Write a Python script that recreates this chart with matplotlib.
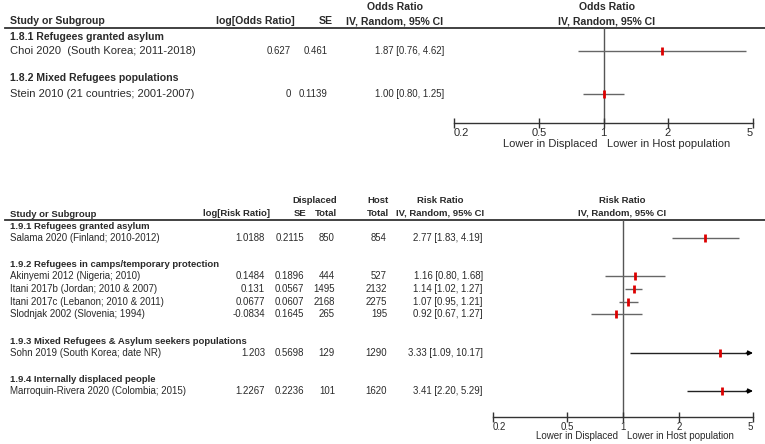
import matplotlib
matplotlib.use("Agg")
import matplotlib.pyplot as plt
from matplotlib import font_manager
import numpy as np

plt.rcParams['font.family'] = ['Liberation Sans', 'DejaVu Sans']
_names = {f.name for f in font_manager.fontManager.ttflist}
HAS_NARROW = 'Liberation Sans Narrow' in _names
NUM_FAMILY = ['Liberation Sans Narrow', 'Liberation Sans'] if HAS_NARROW else ['Liberation Sans']

# ---------------- data ----------------
top_groups = ["1.8.1 Refugees granted asylum", "1.8.2 Mixed Refugees populations"]
top_studies = ["Choi 2020  (South Korea; 2011-2018)", "Stein 2010 (21 countries; 2001-2007)"]
top_logor = ["0.627", "0"]
top_se = ["0.461", "0.1139"]
top_or = [1.87, 1.00]
top_lo = [0.76, 0.80]
top_hi = [4.62, 1.25]

bot_groups = ["1.9.1 Refugees granted asylum",
              "1.9.2 Refugees in camps/temporary protection",
              "1.9.3 Mixed Refugees & Asylum seekers populations",
              "1.9.4 Internally displaced people"]
bot_studies = ["Salama 2020 (Finland; 2010-2012)",
               "Akinyemi 2012 (Nigeria; 2010)",
               "Itani 2017b (Jordan; 2010 & 2007)",
               "Itani 2017c (Lebanon; 2010 & 2011)",
               "Slodnjak 2002 (Slovenia; 1994)",
               "Sohn 2019 (South Korea; date NR)",
               "Marroquin-Rivera 2020 (Colombia; 2015)"]
bot_logrr = ["1.0188", "0.1484", "0.131", "0.0677", "-0.0834", "1.203", "1.2267"]
bot_se = ["0.2115", "0.1896", "0.0567", "0.0607", "0.1645", "0.5698", "0.2236"]
bot_disp = [850, 444, 1495, 2168, 265, 129, 101]
bot_host = [854, 527, 2132, 2275, 195, 1290, 1620]
bot_rr = [2.77, 1.16, 1.14, 1.07, 0.92, 3.33, 3.41]
bot_lo = [1.83, 0.80, 1.02, 0.95, 0.67, 1.09, 2.20]
bot_hi = [4.19, 1.68, 1.27, 1.21, 1.27, 10.17, 5.29]

ticks = [0.2, 0.5, 1, 2, 5]
tick_labels = ["0.2", "0.5", "1", "2", "5"]

# ---------------- layout (pixels) ----------------
W, H = 765, 444
TXT_COL = '#2a2a2a'
top_group_y = [37, 78]
top_study_y = [51, 94]
bot_group_y = [226, 264, 341, 379]
bot_study_y = [238, 276, 289, 302, 314, 353, 391]

fig = plt.figure(figsize=(W / 100, H / 100), dpi=100)
ax = fig.add_axes([0, 0, 1, 1])
ax.set_xlim(0, W)
ax.set_ylim(H, 0)
ax.axis('off')

def txt(x, y, s, size, ha='left', bold=False, num=False):
    kw = {}
    if num:
        kw['family'] = NUM_FAMILY
    ax.text(x, y, s, ha=ha, va='center', fontsize=size,
            fontweight='bold' if bold else 'normal', color=TXT_COL, **kw)

def fmt_ci(e, lo, hi):
    return f"{e:.2f} [{lo:.2f}, {hi:.2f}]"

def forest(left, right, top, bottom, ys, est, lo, hi, size):
    fa = fig.add_axes([left / W, 1 - bottom / H, (right - left) / W, (bottom - top) / H])
    fa.set_xscale('log')
    fa.set_xlim(0.2, 5)
    fa.set_ylim(bottom, top)
    fa.patch.set_alpha(0)
    for s in ['top', 'left', 'right']:
        fa.spines[s].set_visible(False)
    fa.spines['bottom'].set_linewidth(1.0)
    fa.spines['bottom'].set_color('#333333')
    fa.set_yticks([])
    fa.minorticks_off()
    fa.set_xticks(ticks)
    fa.set_xticklabels(tick_labels)
    fa.tick_params(axis='x', direction='inout', length=7, width=1, color='#333333',
                   labelsize=size, pad=0, labelcolor=TXT_COL)
    fa.xaxis.set_tick_params(which='minor', length=0)
    labs = fa.get_xticklabels()
    labs[0].set_ha('left')
    labs[-1].set_ha('right')
    fa.axvline(1, color='#555555', lw=1.0, zorder=1)
    for y, e, l, h in zip(ys, est, lo, hi):
        if h > 5:
            fa.hlines(y, l, 4.7, color='#222222', lw=1.0, zorder=2)
            fa.annotate('', xy=(5, y), xytext=(4.6, y),
                        arrowprops=dict(arrowstyle='-|>', color='black', lw=1.0,
                                        mutation_scale=7, shrinkA=0, shrinkB=0))
        else:
            fa.hlines(y, l, h, color='#666666', lw=1.0, zorder=2)
        fa.plot([e], [y], marker='|', color='#dd0000', markersize=6, mew=2, zorder=3,
                linestyle='none')
    return fa

NUMSZ = 8.2 if HAS_NARROW else 6.9

# ---------------- top panel ----------------
TN, TB, TD = 8.0, 7.6, NUMSZ   # names, bold, numbers
ax.text(395, 7, "Odds Ratio", ha='center', va='center', fontsize=TB, fontweight='bold', color=TXT_COL)
ax.text(607, 7, "Odds Ratio", ha='center', va='center', fontsize=TB, fontweight='bold', color=TXT_COL)
txt(10, 21, "Study or Subgroup", TB, bold=True)
txt(295, 21, "log[Odds Ratio]", TB, ha='right', bold=True)
txt(333, 21, "SE", TB, ha='right', bold=True)
ax.text(395, 21, "IV, Random, 95% CI", ha='center', va='center', fontsize=TB, fontweight='bold', color=TXT_COL)
ax.text(607, 21, "IV, Random, 95% CI", ha='center', va='center', fontsize=TB, fontweight='bold', color=TXT_COL)
ax.plot([5, W], [28.5, 28.5], color='#333333', lw=1.3)

for g, y in zip(top_groups, top_group_y):
    txt(10, y, g, TB, bold=True)
for i, y in enumerate(top_study_y):
    txt(10, y, top_studies[i], TN)
    txt(291, y, top_logor[i], TD, ha='right', num=True)
    txt(328, y, top_se[i], TD, ha='right', num=True)
    txt(444, y, fmt_ci(top_or[i], top_lo[i], top_hi[i]), TD, ha='right', num=True)

forest(454, 753, 28.5, 123, top_study_y, top_or, top_lo, top_hi, TN)
txt(598, 144, "Lower in Displaced", TN, ha='right')
txt(607, 144, "Lower in Host population", TN)

# ---------------- bottom panel ----------------
BN, BB, BD = 7.0, 6.8, NUMSZ
txt(337, 200, "Displaced", BB, ha='right', bold=True)
txt(389, 200, "Host", BB, ha='right', bold=True)
ax.text(440, 200, "Risk Ratio", ha='center', va='center', fontsize=BB, fontweight='bold', color=TXT_COL)
ax.text(622, 200, "Risk Ratio", ha='center', va='center', fontsize=BB, fontweight='bold', color=TXT_COL)
txt(10, 214, "Study or Subgroup", BB, bold=True)
txt(270, 213, "log[Risk Ratio]", BB, ha='right', bold=True)
txt(306, 213, "SE", BB, ha='right', bold=True)
txt(337, 213, "Total", BB, ha='right', bold=True)
txt(389, 213, "Total", BB, ha='right', bold=True)
ax.text(440, 213, "IV, Random, 95% CI", ha='center', va='center', fontsize=BB, fontweight='bold', color=TXT_COL)
ax.text(622, 213, "IV, Random, 95% CI", ha='center', va='center', fontsize=BB, fontweight='bold', color=TXT_COL)
ax.plot([5, W], [219.5, 219.5], color='#333333', lw=1.3)

for g, y in zip(bot_groups, bot_group_y):
    txt(10, y, g, BB, bold=True)
for i, y in enumerate(bot_study_y):
    txt(10, y, bot_studies[i], BN)
    txt(265, y, bot_logrr[i], BD, ha='right', num=True)
    txt(304, y, bot_se[i], BD, ha='right', num=True)
    txt(335, y, str(bot_disp[i]), BD, ha='right', num=True)
    txt(387, y, str(bot_host[i]), BD, ha='right', num=True)
    txt(483, y, fmt_ci(bot_rr[i], bot_lo[i], bot_hi[i]), BD, ha='right', num=True)

forest(493, 753, 219.5, 417, bot_study_y, bot_rr, bot_lo, bot_hi, BN)
txt(618, 436, "Lower in Displaced", BN, ha='right')
txt(627, 436, "Lower in Host population", BN)

fig.savefig("out.png", dpi=100, facecolor='white')
